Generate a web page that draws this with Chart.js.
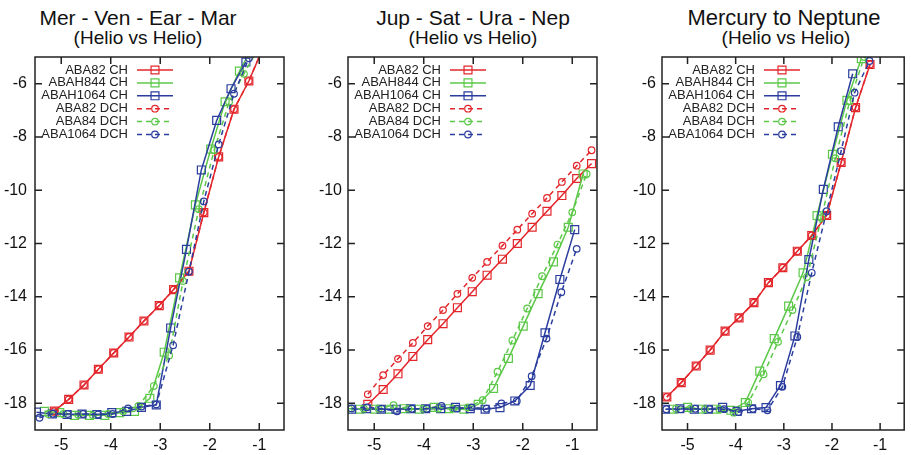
<!DOCTYPE html>
<html>
<head>
<meta charset="utf-8">
<script src="https://cdn.jsdelivr.net/npm/chart.js@4.4.0/dist/chart.umd.min.js"></script>
<style>
  body { margin: 0; background: #fff; width: 911px; height: 455px; overflow: hidden; position: relative;
         font-family: "Liberation Sans", Arial, sans-serif; }
  canvas { position: absolute; top: 0; }
  .t1, .t2 { position: absolute; width: 300px; margin-left: -150px; text-align: center; color: #111; white-space: nowrap; }
  .t1 { top: 6px; font-size: 21px; line-height: 23px; }
  .t2 { top: 27px; font-size: 19px; line-height: 22px; }
</style>
</head>
<body>
<div class="t1" style="left:138px">Mer - Ven - Ear - Mar</div>
<div class="t2" style="left:138px">(Helio vs Helio)</div>
<div class="t1" style="left:473px">Jup - Sat - Ura - Nep</div>
<div class="t2" style="left:473px">(Helio vs Helio)</div>
<div class="t1" style="left:784px;font-size:22px">Mercury to Neptune</div>
<div class="t2" style="left:786px">(Helio vs Helio)</div>
<canvas id="c1" width="300" height="455" style="left:0px"></canvas>
<canvas id="c2" width="310" height="455" style="left:300px"></canvas>
<canvas id="c3" width="301" height="455" style="left:610px"></canvas>
<script>
const LABELS = ["ABA82 CH", "ABAH844 CH", "ABAH1064 CH", "ABA82 DCH", "ABA84 DCH", "ABA1064 DCH"];
const X_TICKS = [-5, -4, -3, -2, -1];
const Y_TICKS = [-18, -16, -14, -12, -10, -8, -6];

// panel 1: Mer - Ven - Ear - Mar
const P1_X_ABA82_CH = [-5.14, -4.85, -4.54, -4.25, -3.94, -3.63, -3.33, -3.02, -2.73, -2.42, -2.12, -1.82, -1.51, -1.21, -0.91];
const P1_Y_ABA82_CH = [-18.29, -17.85, -17.31, -16.72, -16.11, -15.51, -14.91, -14.33, -13.73, -13.04, -10.84, -8.75, -6.96, -5.90, -4.6];
const P1_X_ABAH844_CH = [-5.34, -5.03, -4.73, -4.43, -4.12, -3.82, -3.52, -3.21, -2.92, -2.61, -2.29, -1.98, -1.69, -1.40, -1.10];
const P1_Y_ABAH844_CH = [-18.3, -18.35, -18.45, -18.45, -18.45, -18.35, -18.3, -17.81, -16.08, -13.29, -10.55, -8.46, -6.68, -5.53, -4.5];
const P1_X_ABAH1064_CH = [-5.50, -5.18, -4.88, -4.58, -4.28, -3.98, -3.68, -3.38, -3.08, -2.79, -2.47, -2.17, -1.86, -1.57, -1.27];
const P1_Y_ABAH1064_CH = [-18.33, -18.4, -18.42, -18.4, -18.42, -18.35, -18.3, -18.15, -18.06, -15.17, -12.22, -9.24, -7.38, -6.19, -5.19];
const P1_X_ABA82_DCH = [-5.14, -4.85, -4.54, -4.25, -3.94, -3.63, -3.33, -3.02, -2.73, -2.42, -2.12, -1.82, -1.51, -1.21, -0.91];
const P1_Y_ABA82_DCH = [-18.29, -17.85, -17.31, -16.72, -16.11, -15.51, -14.91, -14.33, -13.73, -13.04, -10.84, -8.75, -6.96, -5.90, -4.6];
const P1_X_ABA84_DCH = [-5.26, -4.96, -4.66, -4.36, -4.05, -3.75, -3.44, -3.13, -2.82, -2.54, -2.22, -1.91, -1.61, -1.31, -1.0];
const P1_Y_ABA84_DCH = [-18.4, -18.4, -18.42, -18.45, -18.4, -18.3, -18.1, -17.35, -16.2, -13.41, -10.71, -8.50, -6.69, -5.63, -4.6];
const P1_X_ABA1064_DCH = [-5.44, -5.17, -4.87, -4.56, -4.26, -3.96, -3.65, -3.38, -3.08, -2.74, -2.42, -2.12, -1.82, -1.51, -1.21];
const P1_Y_ABA1064_DCH = [-18.54, -18.39, -18.4, -18.4, -18.42, -18.4, -18.19, -18.12, -18.04, -15.82, -13.06, -10.42, -8.28, -6.38, -5.05];

// panel 2: Jup - Sat - Ura - Nep
const P2_X_ABA82_CH = [-5.13, -4.82, -4.52, -4.22, -3.92, -3.61, -3.32, -3.02, -2.72, -2.41, -2.11, -1.81, -1.51, -1.21, -0.91, -0.61];
const P2_Y_ABA82_CH = [-18.04, -17.48, -16.89, -16.24, -15.61, -15.01, -14.41, -13.81, -13.19, -12.59, -12.0, -11.39, -10.79, -10.20, -9.56, -9.0];
const P2_X_ABAH844_CH = [-5.29, -4.99, -4.69, -4.39, -4.09, -3.79, -3.49, -3.19, -2.90, -2.59, -2.29, -1.99, -1.69, -1.38, -1.08, -0.78];
const P2_Y_ABAH844_CH = [-18.22, -18.22, -18.22, -18.2, -18.22, -18.15, -18.2, -18.22, -18.04, -17.44, -16.31, -15.10, -13.88, -12.69, -11.39, -9.39];
const P2_X_ABAH1064_CH = [-5.46, -5.16, -4.86, -4.56, -4.26, -3.96, -3.66, -3.36, -3.06, -2.76, -2.46, -2.16, -1.85, -1.55, -1.25, -0.95];
const P2_Y_ABAH1064_CH = [-18.22, -18.2, -18.22, -18.22, -18.2, -18.2, -18.2, -18.15, -18.2, -18.22, -18.16, -17.91, -17.33, -15.35, -13.35, -11.48];
const P2_X_ABA82_DCH = [-5.13, -4.82, -4.52, -4.22, -3.92, -3.61, -3.32, -3.02, -2.72, -2.41, -2.11, -1.81, -1.51, -1.21, -0.91, -0.61];
const P2_Y_ABA82_DCH = [-17.66, -16.94, -16.33, -15.73, -15.10, -14.50, -13.89, -13.29, -12.69, -12.08, -11.48, -10.88, -10.29, -9.69, -9.08, -8.50];
const P2_X_ABA84_DCH = [-5.51, -5.21, -4.91, -4.61, -4.31, -4.01, -3.71, -3.41, -3.11, -2.81, -2.51, -2.21, -1.91, -1.61, -1.30, -1.00, -0.71];
const P2_Y_ABA84_DCH = [-18.2, -18.2, -18.2, -18.07, -18.2, -18.2, -18.2, -18.2, -18.15, -17.88, -16.81, -15.64, -14.44, -13.23, -12.04, -10.83, -9.39];
const P2_X_ABA1064_DCH = [-5.46, -5.15, -4.85, -4.54, -4.24, -3.94, -3.64, -3.33, -3.03, -2.73, -2.43, -2.12, -1.82, -1.52, -1.22, -0.91];
const P2_Y_ABA1064_DCH = [-18.19, -18.15, -18.2, -18.3, -18.2, -18.2, -18.1, -18.2, -18.15, -18.2, -18.0, -17.91, -16.98, -15.57, -13.83, -12.20];

// panel 3: Mercury to Neptune
const P3_X_ABA82_CH = [-5.43, -5.13, -4.82, -4.53, -4.22, -3.93, -3.62, -3.32, -3.02, -2.72, -2.42, -2.11, -1.81, -1.51, -1.21];
const P3_Y_ABA82_CH = [-17.76, -17.22, -16.60, -16.0, -15.29, -14.79, -14.22, -13.47, -12.91, -12.29, -11.70, -10.95, -8.96, -6.90, -5.28];
const P3_X_ABAH844_CH = [-5.30, -5.00, -4.70, -4.40, -4.10, -3.80, -3.50, -3.20, -2.90, -2.60, -2.31, -1.99, -1.69, -1.39];
const P3_Y_ABAH844_CH = [-18.22, -18.15, -18.22, -18.22, -18.26, -17.97, -16.79, -15.57, -14.35, -13.10, -10.95, -8.65, -6.63, -5.06];
const P3_X_ABAH1064_CH = [-5.46, -5.16, -4.86, -4.57, -4.27, -3.97, -3.67, -3.37, -3.07, -2.77, -2.48, -2.18, -1.87, -1.57];
const P3_Y_ABAH1064_CH = [-18.22, -18.2, -18.22, -18.22, -18.15, -18.3, -18.2, -18.16, -17.33, -15.47, -12.60, -9.97, -7.62, -5.63];
const P3_X_ABA82_DCH = [-5.43, -5.13, -4.82, -4.53, -4.22, -3.93, -3.62, -3.32, -3.02, -2.72, -2.42, -2.11, -1.81, -1.51, -1.21];
const P3_Y_ABA82_DCH = [-17.76, -17.22, -16.60, -16.0, -15.29, -14.79, -14.22, -13.47, -12.91, -12.29, -11.70, -10.95, -8.96, -6.90, -5.28];
const P3_X_ABA84_DCH = [-5.24, -4.94, -4.64, -4.34, -4.04, -3.74, -3.42, -3.12, -2.82, -2.52, -2.22, -1.93, -1.63, -1.33];
const P3_Y_ABA84_DCH = [-18.2, -18.2, -18.22, -18.22, -18.35, -17.97, -16.91, -15.69, -14.50, -13.26, -11.04, -8.80, -6.65, -5.0];
const P3_X_ABA1064_DCH = [-5.44, -5.14, -4.84, -4.54, -4.24, -3.94, -3.64, -3.34, -3.03, -2.72, -2.42, -2.11, -1.81, -1.53, -1.22];
const P3_Y_ABA1064_DCH = [-18.22, -18.22, -18.2, -18.22, -18.22, -18.33, -18.2, -18.26, -17.38, -15.51, -13.10, -10.79, -8.53, -6.34, -5.15];

const COLORS = ["#e3262b", "#5cc848", "#2b3d9e", "#e3262b", "#5cc848", "#2b3d9e"];
const FONT = '"Liberation Sans", Arial, sans-serif';

function pts(xs, ys) {
  return xs.map((x, i) => ({ x: x, y: ys[i] }));
}

function makeSets(series) {
  return series.map((s, i) => {
    const dashed = i >= 3;
    return {
      label: LABELS[i],
      data: pts(s[0], s[1]),
      showLine: true,
      borderColor: COLORS[i],
      backgroundColor: "rgba(0,0,0,0)",
      borderWidth: 1.5,
      borderDash: dashed ? [5, 4] : [],
      pointStyle: dashed ? "circle" : "rect",
      pointRadius: dashed ? 3.3 : 5.6,
      pointBorderWidth: 1.2,
      pointBorderColor: COLORS[i],
      pointBackgroundColor: "rgba(0,0,0,0)",
      order: 6 - i
    };
  });
}

// gnuplot-like box, inward mirrored ticks and in-plot key
const boxPlugin = {
  id: "box",
  afterDraw(chart) {
    const ctx = chart.ctx, a = chart.chartArea;
    const sx = chart.scales.x, sy = chart.scales.y;
    ctx.save();
    ctx.strokeStyle = "#222";
    ctx.lineWidth = 1.5;
    ctx.setLineDash([]);
    ctx.strokeRect(a.left, a.top, a.right - a.left, a.bottom - a.top);
    ctx.beginPath();
    X_TICKS.forEach(v => {
      const px = sx.getPixelForValue(v);
      ctx.moveTo(px, a.bottom); ctx.lineTo(px, a.bottom - 7);
      ctx.moveTo(px, a.top); ctx.lineTo(px, a.top + 7);
    });
    Y_TICKS.forEach(v => {
      const py = sy.getPixelForValue(v);
      ctx.moveTo(a.left, py); ctx.lineTo(a.left + 7, py);
      ctx.moveTo(a.right, py); ctx.lineTo(a.right - 7, py);
    });
    ctx.stroke();

    ctx.font = "13px " + FONT;
    ctx.textAlign = "right";
    ctx.textBaseline = "middle";
    chart.data.datasets.forEach((ds, i) => {
      const yy = a.top + 13 + i * 12.9;
      ctx.fillStyle = "#222";
      ctx.fillText(ds.label, a.left + 93, yy);
      ctx.strokeStyle = ds.borderColor;
      ctx.lineWidth = 1.5;
      ctx.setLineDash(ds.borderDash);
      ctx.beginPath();
      ctx.moveTo(a.left + 102, yy);
      ctx.lineTo(a.left + 138, yy);
      ctx.stroke();
      ctx.setLineDash([]);
      ctx.fillStyle = "rgba(0,0,0,0)";
      ctx.lineWidth = 1.2;
      Chart.helpers.drawPoint(ctx, { pointStyle: ds.pointStyle, radius: ds.pointRadius, borderWidth: 1.2, rotation: 0 }, a.left + 120, yy);
    });
    ctx.restore();
  }
};

function drawPanel(id, series, axisW, labelPad, rightPad) {
  new Chart(document.getElementById(id), {
    type: "scatter",
    data: { datasets: makeSets(series) },
    options: {
      responsive: false,
      animation: false,
      layout: { padding: { top: 57, right: rightPad, left: 0, bottom: 0 } },
      plugins: { legend: { display: false }, tooltip: { enabled: false }, title: { display: false } },
      scales: {
        x: {
          type: "linear", min: -5.53, max: -0.5,
          afterBuildTicks: s => { s.ticks = X_TICKS.map(v => ({ value: v })); },
          afterFit: s => { s.height = 25; },
          grid: { display: false, drawTicks: false },
          border: { display: false },
          ticks: { padding: 6, color: "#111", font: { size: 16, family: FONT } }
        },
        y: {
          type: "linear", min: -19, max: -5,
          afterBuildTicks: s => { s.ticks = Y_TICKS.map(v => ({ value: v })); },
          afterFit: s => { s.width = axisW; },
          grid: { display: false, drawTicks: false },
          border: { display: false },
          ticks: { padding: labelPad, color: "#111", font: { size: 16, family: FONT } }
        }
      }
    },
    plugins: [boxPlugin]
  });
}

drawPanel("c1", [
  [P1_X_ABA82_CH, P1_Y_ABA82_CH], [P1_X_ABAH844_CH, P1_Y_ABAH844_CH], [P1_X_ABAH1064_CH, P1_Y_ABAH1064_CH],
  [P1_X_ABA82_DCH, P1_Y_ABA82_DCH], [P1_X_ABA84_DCH, P1_Y_ABA84_DCH], [P1_X_ABA1064_DCH, P1_Y_ABA1064_DCH]
], 35, 8, 16);

drawPanel("c2", [
  [P2_X_ABA82_CH, P2_Y_ABA82_CH], [P2_X_ABAH844_CH, P2_Y_ABAH844_CH], [P2_X_ABAH1064_CH, P2_Y_ABAH1064_CH],
  [P2_X_ABA82_DCH, P2_Y_ABA82_DCH], [P2_X_ABA84_DCH, P2_Y_ABA84_DCH], [P2_X_ABA1064_DCH, P2_Y_ABA1064_DCH]
], 48, 6, 13);

drawPanel("c3", [
  [P3_X_ABA82_CH, P3_Y_ABA82_CH], [P3_X_ABAH844_CH, P3_Y_ABAH844_CH], [P3_X_ABAH1064_CH, P3_Y_ABAH1064_CH],
  [P3_X_ABA82_DCH, P3_Y_ABA82_DCH], [P3_X_ABA84_DCH, P3_Y_ABA84_DCH], [P3_X_ABA1064_DCH, P3_Y_ABA1064_DCH]
], 52, 6, 2);
</script>
</body>
</html>
